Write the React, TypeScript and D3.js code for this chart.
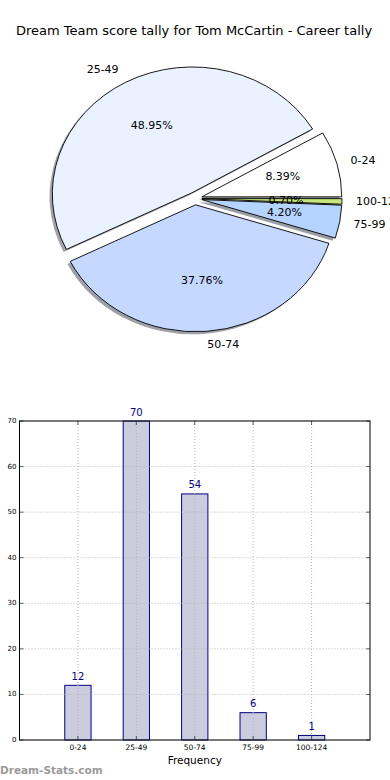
import React from 'react';
import * as d3 from 'd3';

// data
const categories = ['0-24', '25-49', '50-74', '75-99', '100-124'];
const frequency = [12, 70, 54, 6, 1];
const pieColors = ['#ffffff', '#eaf1ff', '#c5d8ff', '#b4d3ff', '#c8e47c'];
const yTicks = [0, 10, 20, 30, 40, 50, 60, 70];

const W = 390;
const H = 780;
const FONT = 'DejaVu Sans, sans-serif';

// pie layout (matplotlib style: elliptical axes, every wedge exploded a bit)
const PIE = { cx: 195, cy: 198.5, rx: 140, ry: 127, explode: 0.05 };

// bar layout
const BAR = { left: 19.5, right: 370, top: 421, bottom: 740 };

const App: React.FC = () => {
  const total = d3.sum(frequency);
  const slices = d3.pie<number>().sort(null).startAngle(0).endAngle(2 * Math.PI)(frequency);
  const arc = d3.arc<any>().innerRadius(0).outerRadius(1);

  // d3 angles are clockwise from 12 o'clock; use them as matplotlib angles (ccw from 3 o'clock)
  const wedges = slices.map((s, i) => {
    const t1 = s.startAngle;
    const t2 = s.endAngle;
    const tm = (t1 + t2) / 2;
    const ax = PIE.cx + PIE.explode * PIE.rx * Math.cos(tm);
    const ay = PIE.cy - PIE.explode * PIE.ry * Math.sin(tm);
    const d = arc({ startAngle: Math.PI / 2 - t2, endAngle: Math.PI / 2 - t1 }) as string;
    return {
      i,
      ax,
      ay,
      tm,
      d,
      label: categories[i],
      pct: ((frequency[i] / total) * 100).toFixed(2) + '%',
    };
  });

  const shadowColor = (c: string) => {
    const rgb = d3.rgb(c);
    return d3.rgb(rgb.r * 0.3, rgb.g * 0.3, rgb.b * 0.3).toString();
  };

  // bar chart scales
  const x = d3.scaleLinear().domain([0, 6]).range([BAR.left, BAR.right]);
  const y = d3.scaleLinear().domain([0, 70]).range([BAR.bottom, BAR.top]);
  const barW = x(0.45) - x(0);
  const xPos = categories.map((_, i) => i + 1);

  return (
    <svg
      width={W}
      height={H}
      style={{ position: 'absolute', left: 0, top: 0, background: '#fff' }}
      fontFamily={FONT}
    >
      <text x={194} y={30} textAnchor="middle" dominantBaseline="central" fontSize={13}>
        Dream Team score tally for Tom McCartin - Career tally
      </text>

      {/* shadows */}
      {wedges.map((w) => (
        <path
          key={'s' + w.i}
          d={w.d}
          transform={`translate(${w.ax - 0.02 * PIE.rx},${w.ay + 0.02 * PIE.ry}) scale(${PIE.rx},${PIE.ry})`}
          fill={shadowColor(pieColors[w.i])}
          opacity={0.5}
        />
      ))}
      {/* wedges */}
      {wedges.map((w) => (
        <path
          key={'w' + w.i}
          d={w.d}
          transform={`translate(${w.ax},${w.ay}) scale(${PIE.rx},${PIE.ry})`}
          fill={pieColors[w.i]}
          stroke="#000"
          strokeWidth={0.9}
          vectorEffect="non-scaling-stroke"
        />
      ))}
      {/* labels */}
      {wedges.map((w) => {
        const lx = w.ax + 1.1 * PIE.rx * Math.cos(w.tm);
        const ly = w.ay - 1.1 * PIE.ry * Math.sin(w.tm);
        const px = w.ax + 0.6 * PIE.rx * Math.cos(w.tm);
        const py = w.ay - 0.6 * PIE.ry * Math.sin(w.tm);
        return (
          <g key={'l' + w.i} fontSize={11}>
            <text x={lx} y={ly} textAnchor={Math.cos(w.tm) > 0 ? 'start' : 'end'} dominantBaseline="central">
              {w.label}
            </text>
            <text x={px} y={py} textAnchor="middle" dominantBaseline="central">
              {w.pct}
            </text>
          </g>
        );
      })}

      {/* bar chart */}
      <rect x={BAR.left} y={BAR.top} width={BAR.right - BAR.left} height={BAR.bottom - BAR.top} fill="#fff" />
      {frequency.map((v, i) => (
        <rect
          key={'b' + i}
          x={x(xPos[i]) - barW / 2}
          y={y(v)}
          width={barW}
          height={y(0) - y(v)}
          fill="#ccccdf"
          stroke="#000080"
          strokeWidth={1}
        />
      ))}
      {/* grid over bars */}
      {yTicks.map((t) => (
        <line key={'gy' + t} x1={BAR.left} x2={BAR.right} y1={y(t)} y2={y(t)} stroke="#b5b5b5" strokeDasharray="1,2" />
      ))}
      {xPos.map((p) => (
        <line key={'gx' + p} x1={x(p)} x2={x(p)} y1={BAR.top} y2={BAR.bottom} stroke="#b5b5b5" strokeDasharray="1,2" />
      ))}
      {/* ticks */}
      {yTicks.map((t) => (
        <g key={'ty' + t}>
          <line x1={BAR.left} x2={BAR.left + 4} y1={y(t)} y2={y(t)} stroke="#000" strokeWidth={0.6} />
          <line x1={BAR.right - 4} x2={BAR.right} y1={y(t)} y2={y(t)} stroke="#000" strokeWidth={0.6} />
          <text x={BAR.left - 3} y={y(t)} textAnchor="end" dominantBaseline="central" fontSize={7}>
            {t}
          </text>
        </g>
      ))}
      {xPos.map((p, i) => (
        <g key={'tx' + p}>
          <line x1={x(p)} x2={x(p)} y1={BAR.bottom} y2={BAR.bottom - 4} stroke="#000" strokeWidth={0.6} />
          <line x1={x(p)} x2={x(p)} y1={BAR.top} y2={BAR.top + 4} stroke="#000" strokeWidth={0.6} />
          <text x={x(p)} y={BAR.bottom + 7.5} textAnchor="middle" dominantBaseline="central" fontSize={7.5}>
            {categories[i]}
          </text>
        </g>
      ))}
      <rect
        x={BAR.left}
        y={BAR.top}
        width={BAR.right - BAR.left}
        height={BAR.bottom - BAR.top}
        fill="none"
        stroke="#000"
        strokeWidth={1}
      />
      {frequency.map((v, i) => (
        <text
          key={'v' + i}
          x={x(xPos[i])}
          y={y(v) - 9}
          textAnchor="middle"
          dominantBaseline="central"
          fontSize={10}
          fill="#000080"
        >
          {v}
        </text>
      ))}
      <text x={(BAR.left + BAR.right) / 2} y={760} textAnchor="middle" dominantBaseline="central" fontSize={10.5}>
        Frequency
      </text>
      <text x={0} y={770} dominantBaseline="central" fontSize={10.5} fontWeight="bold" fill="#9a9a9a">
        Dream-Stats.com
      </text>
    </svg>
  );
};

export default App;
